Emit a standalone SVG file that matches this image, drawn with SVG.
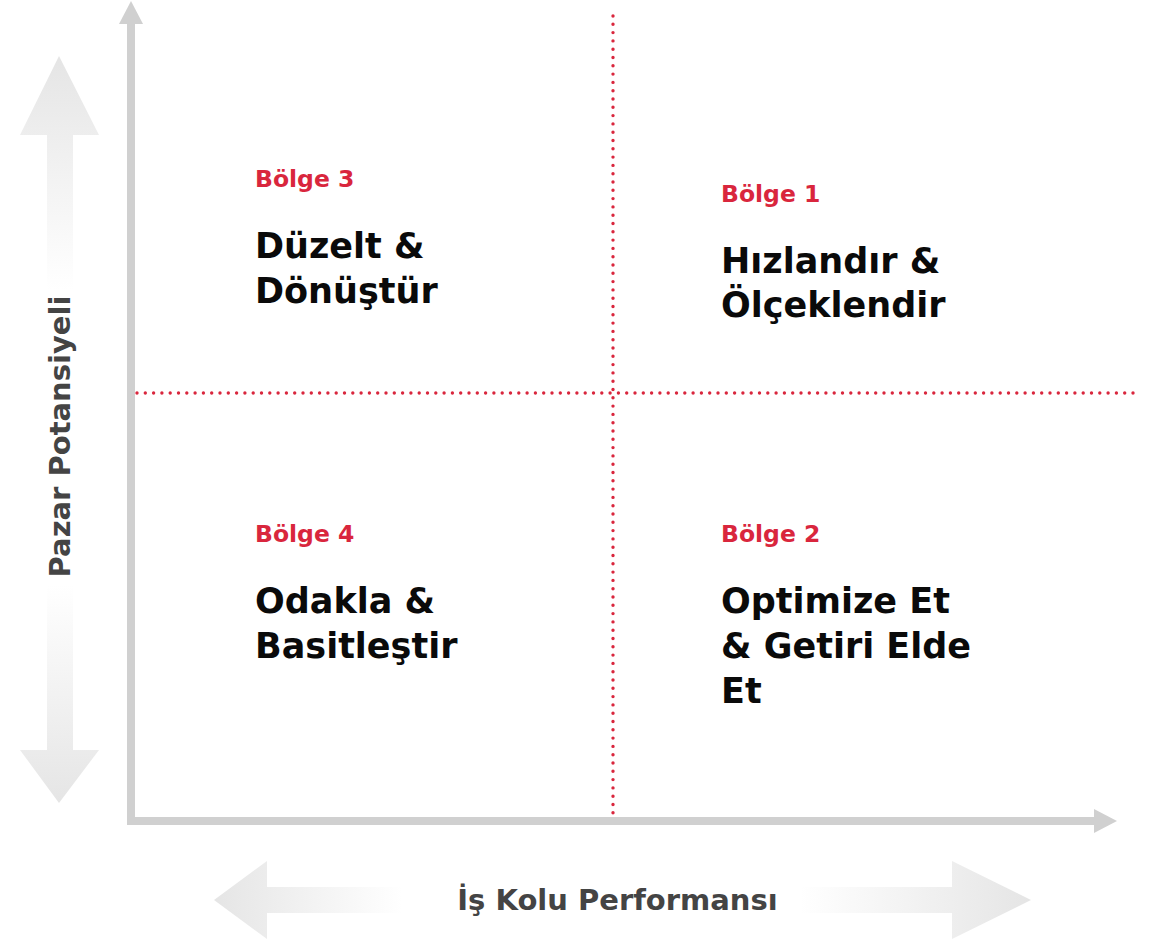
<svg xmlns="http://www.w3.org/2000/svg" width="1158" height="940" viewBox="0 0 1158 940">
  <defs>
    <style>
      .zone { font-family: "DejaVu Sans", "Liberation Sans", sans-serif; font-weight: bold; font-size: 23.5px; fill: #d9263d; }
      .title { font-family: "DejaVu Sans", "Liberation Sans", sans-serif; font-weight: bold; font-size: 35px; fill: #0a0a0a; }
      .axislabel { font-family: "DejaVu Sans", "Liberation Sans", sans-serif; font-weight: bold; font-size: 29px; fill: #444444; }
      .axis { fill: #d0d0d0; }
      .grid { stroke: #d9263d; stroke-width: 3.4; stroke-linecap: round; stroke-dasharray: 0 8.3; fill: none; }
    </style>
    <linearGradient id="gUp" gradientUnits="userSpaceOnUse" x1="0" y1="56" x2="0" y2="290">
      <stop offset="0" stop-color="#e5e5e5"/>
      <stop offset="1" stop-color="#ffffff"/>
    </linearGradient>
    <linearGradient id="gDown" gradientUnits="userSpaceOnUse" x1="0" y1="585" x2="0" y2="803">
      <stop offset="0" stop-color="#ffffff"/>
      <stop offset="1" stop-color="#e5e5e5"/>
    </linearGradient>
    <linearGradient id="gLeft" gradientUnits="userSpaceOnUse" x1="214" y1="0" x2="402" y2="0">
      <stop offset="0" stop-color="#e5e5e5"/>
      <stop offset="1" stop-color="#ffffff"/>
    </linearGradient>
    <linearGradient id="gRight" gradientUnits="userSpaceOnUse" x1="800" y1="0" x2="1031" y2="0">
      <stop offset="0" stop-color="#ffffff"/>
      <stop offset="1" stop-color="#e5e5e5"/>
    </linearGradient>
  </defs>
  <rect width="1158" height="940" fill="#ffffff"/>

  <g id="axis-decor">
    <polygon points="59,56 99,135 73,135 73,292 47,292 47,135 20,135" fill="url(#gUp)"/>
    <polygon points="59,803 99,750 73,750 73,585 47,585 47,750 20,750" fill="url(#gDown)"/>
    <polygon points="214,900 267,861 267,887 402,887 402,913 267,913 267,939" fill="url(#gLeft)"/>
    <polygon points="1031,900 952,861 952,887 800,887 800,913 952,913 952,939" fill="url(#gRight)"/>
  </g>

  <g id="connectors">
    <rect class="axis" x="127" y="22" width="8" height="803"/>
    <polygon class="axis" points="131,1 143,24 119,24"/>
    <rect class="axis" x="127" y="817" width="969" height="8"/>
    <polygon class="axis" points="1117,821 1094,809 1094,833"/>
    <line class="grid" x1="613" y1="16" x2="613" y2="819"/>
    <line class="grid" x1="137" y1="393" x2="1139" y2="393"/>
  </g>

  <g id="label-y">
    <text class="axislabel" transform="translate(70,436.5) rotate(-90)" text-anchor="middle">Pazar Potansiyeli</text>
  </g>
  <g id="label-x">
    <text class="axislabel" x="617.5" y="910" text-anchor="middle">İş Kolu Performansı</text>
  </g>

  <g id="zone3">
    <text class="zone" x="255" y="187">Bölge 3</text>
    <text class="title" x="255" y="258">Düzelt &amp;</text>
    <text class="title" x="255" y="303">Dönüştür</text>
  </g>
  <g id="zone1">
    <text class="zone" x="721" y="202">Bölge 1</text>
    <text class="title" x="721" y="273">Hızlandır &amp;</text>
    <text class="title" x="721" y="317">Ölçeklendir</text>
  </g>
  <g id="zone4">
    <text class="zone" x="255" y="542">Bölge 4</text>
    <text class="title" x="255" y="613">Odakla &amp;</text>
    <text class="title" x="255" y="658">Basitleştir</text>
  </g>
  <g id="zone2">
    <text class="zone" x="721" y="542">Bölge 2</text>
    <text class="title" x="721" y="613">Optimize Et</text>
    <text class="title" x="721" y="658">&amp; Getiri Elde</text>
    <text class="title" x="721" y="703">Et</text>
  </g>
</svg>
